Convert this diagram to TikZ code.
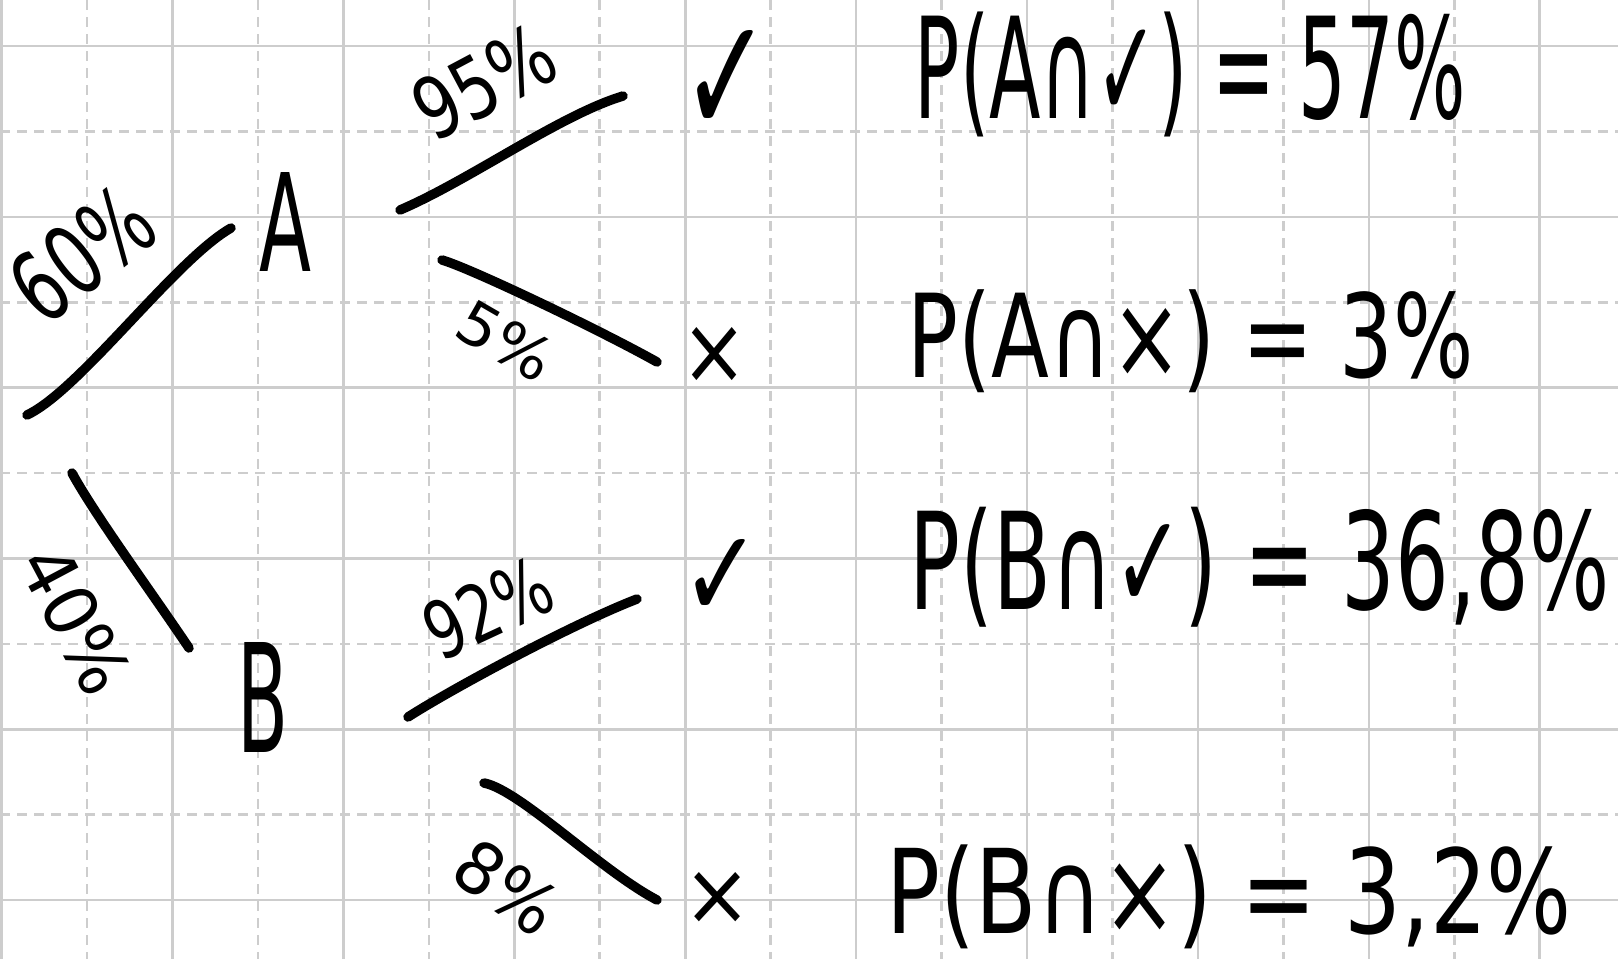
\documentclass[tikz,border=0pt]{standalone}
\usepackage{fontspec}
\setmainfont{DejaVu Sans}
\usepackage{graphicx}
\definecolor{gridc}{RGB}{205,205,205}
\newcommand{\hwbox}[3]{\resizebox*{#1pt}{#2pt}{#3}}
\tikzset{
  ink/.style={line width=9.5pt, line cap=round, line join=round, draw=black},
  gridsolid/.style={line width=2.6pt, draw=gridc},
  griddash/.style={line width=2.6pt, draw=gridc, dash pattern=on 10pt off 7pt},
  hw/.style={inner sep=0pt, outer sep=0pt, text=black},
}
\begin{document}
\begin{tikzpicture}[x=1pt,y=-1pt]
\useasboundingbox (0,0) rectangle (1618,959);
\fill[white] (0,0) rectangle (1618,959);
% grid
\foreach \i in {0,...,9} \draw[gridsolid] ({1.6+170.9*\i},0) -- ({1.6+170.9*\i},959);
\foreach \i in {0,...,8} \draw[griddash] ({87+170.9*\i},0) -- ({87+170.9*\i},959);
\foreach \j in {0,...,5} \draw[gridsolid] (0,{46+170.8*\j}) -- (1618,{46+170.8*\j});
\foreach \j in {0,...,4} \draw[griddash] (0,{131.4+170.8*\j}) -- (1618,{131.4+170.8*\j});

% tree nodes
\node[hw] (A) at (286,222) {\hwbox{52}{99}{A}};
\node[hw] (B) at (263,697) {\hwbox{51}{110}{B}};
\node[hw] (A1) at (727,82) {\hwbox{90}{104}{✓}};
\node[hw] (A2) at (715,355) {\hwbox{66}{56}{×}};
\node[hw] (B1) at (722,578) {\hwbox{80}{78}{✓}};
\node[hw] (B2) at (718,898) {\hwbox{68}{52}{×}};

% branch end points
\coordinate (root1) at (27,415);  \coordinate (toA) at (231,228);
\coordinate (root2) at (72,473);  \coordinate (toB) at (189,648);
\coordinate (A1s) at (400,210);   \coordinate (A1e) at (623,96);
\coordinate (A2s) at (442,260);   \coordinate (A2e) at (657,362);
\coordinate (B1s) at (408,717);   \coordinate (B1e) at (637,599);
\coordinate (B2s) at (484,783);   \coordinate (B2e) at (657,900);

% branches
\draw[ink] (root1) .. controls (80,390) and (175,260) .. (toA);
\draw[ink] (root2) .. controls (95,515) and (150,590) .. (toB);
\draw[ink] (A1s) .. controls (470,180) and (560,115) .. (A1e);
\draw[ink] (A2s) .. controls (470,268) and (600,330) .. (A2e);
\draw[ink] (B1s) .. controls (450,690) and (570,625) .. (B1e);
\draw[ink] (B2s) .. controls (520,790) and (600,870) .. (B2e);

% branch labels
\node[hw, rotate=38]  (l60) at (82,254)  {\hwbox{150}{74}{60\%}};
\node[hw, rotate=-62] (l40) at (76,620)  {\hwbox{155}{55}{40\%}};
\node[hw, rotate=28]  (l95) at (484,82)  {\hwbox{148}{64}{95\%}};
\node[hw, rotate=-30] (l5)  at (506,341) {\hwbox{100}{45}{5\%}};
\node[hw, rotate=25]  (l92) at (488,608) {\hwbox{132}{60}{92\%}};
\node[hw, rotate=-35] (l8)  at (507,887) {\hwbox{108}{54}{8\%}};

% results
\node[hw] (pA1) at (1190.5,74.5) {\hwbox{551}{125}{P(A∩✓) = 57\%}};
\node[hw] (pA2) at (1191,341.5)  {\hwbox{566}{103}{P(A∩×) = 3\%}};
\node[hw] (pB1) at (1260,567)    {\hwbox{700}{120}{P(B∩✓) = 36,8\%}};
\node[hw] (pB2) at (1229.5,897)  {\hwbox{685}{104}{P(B∩×) = 3,2\%}};
\end{tikzpicture}
\end{document}
